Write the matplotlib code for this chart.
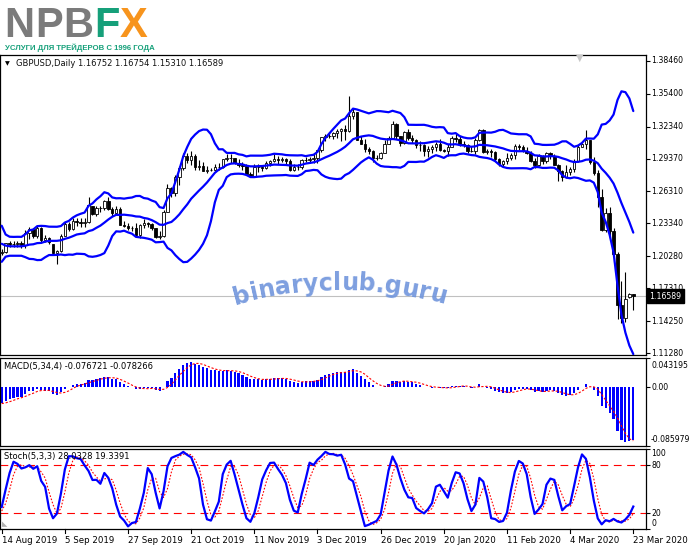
import numpy as np
import pandas as pd
import matplotlib.pyplot as plt
from matplotlib.transforms import blended_transform_factory

W, H = 691, 549

# ---- daily GBPUSD bars, 14 Aug 2019 .. 23 Mar 2020 ----
opens = [
    1.2060, 1.2070, 1.2150, 1.2140, 1.2145, 1.2155, 1.2130, 1.2245, 1.2285, 1.2215,
    1.2290, 1.2180, 1.2195, 1.2140, 1.2060, 1.2075, 1.2220, 1.2330, 1.2285, 1.2355,
    1.2350, 1.2335, 1.2345, 1.2495, 1.2420, 1.2480, 1.2475, 1.2545, 1.2470, 1.2435,
    1.2470, 1.2320, 1.2315, 1.2290, 1.2295, 1.2225, 1.2320, 1.2335, 1.2330, 1.2290,
    1.2210, 1.2220, 1.2445, 1.2665, 1.2615, 1.2770, 1.2850, 1.2960, 1.2920, 1.2965,
    1.2860, 1.2865, 1.2825, 1.2835, 1.2830, 1.2860, 1.2860, 1.2935, 1.2945, 1.2940,
    1.2895, 1.2875, 1.2870, 1.2795, 1.2775, 1.2860, 1.2855, 1.2850, 1.2895, 1.2915,
    1.2935, 1.2920, 1.2935, 1.2910, 1.2835, 1.2860, 1.2855, 1.2920, 1.2925, 1.2935,
    1.2940, 1.3015, 1.3135, 1.3150, 1.3150, 1.3170, 1.3190, 1.3215, 1.3190, 1.3330,
    1.3365, 1.3110, 1.3075, 1.3030, 1.3010, 1.2945, 1.2945, 1.2990, 1.3075, 1.3125,
    1.3255, 1.3145, 1.3080, 1.3180, 1.3130, 1.3105, 1.3065, 1.3060, 1.3005, 1.3025,
    1.3040, 1.3070, 1.3015, 1.3005, 1.3045, 1.3125, 1.3115, 1.3075, 1.3065, 1.3005,
    1.3005, 1.3110, 1.3205, 1.2995, 1.3010, 1.2995, 1.2935, 1.2885, 1.2915, 1.2945,
    1.2970, 1.3050, 1.3045, 1.3010, 1.2990, 1.2915, 1.2875, 1.2960, 1.2910, 1.2990,
    1.2965, 1.2880, 1.2825, 1.2770, 1.2815, 1.2840, 1.2915, 1.3045, 1.3075, 1.3105,
    1.2905, 1.2800, 1.2580, 1.2275, 1.2430, 1.2260, 1.2055, 1.1580, 1.1460, 1.1650,
    1.16752,
]
highs = [
    1.2099, 1.2155, 1.2170, 1.2175, 1.2170, 1.2170, 1.2275, 1.2300, 1.2290, 1.2310,
    1.2300, 1.2225, 1.2210, 1.2145, 1.2085, 1.2235, 1.2345, 1.2350, 1.2385, 1.2385,
    1.2385, 1.2385, 1.2580, 1.2500, 1.2500, 1.2500, 1.2555, 1.2580, 1.2490, 1.2500,
    1.2490, 1.2360, 1.2340, 1.2310, 1.2340, 1.2330, 1.2375, 1.2350, 1.2340, 1.2295,
    1.2260, 1.2460, 1.2705, 1.2675, 1.2785, 1.2870, 1.2990, 1.2990, 1.3010, 1.2980,
    1.2925, 1.2905, 1.2870, 1.2845, 1.2885, 1.2895, 1.2935, 1.2975, 1.2975, 1.2945,
    1.2935, 1.2905, 1.2890, 1.2810, 1.2890, 1.2890, 1.2870, 1.2915, 1.2925, 1.2980,
    1.2965, 1.2950, 1.2945, 1.2935, 1.2890, 1.2885, 1.2935, 1.2950, 1.2950, 1.2980,
    1.3020, 1.3140, 1.3165, 1.3180, 1.3180, 1.3215, 1.3225, 1.3250, 1.3515, 1.3405,
    1.3365, 1.3145, 1.3115, 1.3045, 1.3020, 1.2970, 1.3000, 1.3105, 1.3145, 1.3285,
    1.3265, 1.3150, 1.3190, 1.3215, 1.3160, 1.3115, 1.3100, 1.3075, 1.3050, 1.3065,
    1.3090, 1.3120, 1.3025, 1.3075, 1.3150, 1.3175, 1.3145, 1.3100, 1.3070, 1.3050,
    1.3125, 1.3215, 1.3210, 1.3030, 1.3030, 1.3005, 1.2945, 1.2925, 1.2990, 1.2990,
    1.3070, 1.3070, 1.3060, 1.3045, 1.3005, 1.2940, 1.2980, 1.2970, 1.3000, 1.3000,
    1.2975, 1.2890, 1.2835, 1.2875, 1.2860, 1.2935, 1.3075, 1.3085, 1.3200, 1.3110,
    1.2950, 1.2835, 1.2650, 1.2480, 1.2485, 1.2295, 1.2065, 1.1800, 1.1885, 1.1690,
    1.16754,
]
lows = [
    1.2040, 1.2060, 1.2115, 1.2115, 1.2115, 1.2110, 1.2110, 1.2190, 1.2200, 1.2200,
    1.2150, 1.2160, 1.2140, 1.2045, 1.1960, 1.2065, 1.2215, 1.2265, 1.2270, 1.2315,
    1.2305, 1.2300, 1.2340, 1.2410, 1.2405, 1.2440, 1.2455, 1.2460, 1.2405, 1.2420,
    1.2320, 1.2305, 1.2275, 1.2265, 1.2205, 1.2195, 1.2290, 1.2300, 1.2275, 1.2195,
    1.2190, 1.2205, 1.2440, 1.2580, 1.2585, 1.2690, 1.2830, 1.2900, 1.2880, 1.2830,
    1.2835, 1.2820, 1.2805, 1.2825, 1.2820, 1.2830, 1.2850, 1.2910, 1.2900, 1.2885,
    1.2860, 1.2835, 1.2795, 1.2765, 1.2770, 1.2815, 1.2820, 1.2840, 1.2870, 1.2905,
    1.2885, 1.2905, 1.2890, 1.2820, 1.2825, 1.2835, 1.2840, 1.2905, 1.2900, 1.2900,
    1.2895, 1.3000, 1.3100, 1.3125, 1.3120, 1.3130, 1.3100, 1.3105, 1.3185, 1.3300,
    1.3110, 1.3070, 1.2995, 1.2975, 1.2905, 1.2925, 1.2935, 1.2985, 1.3075, 1.3115,
    1.3120, 1.3050, 1.3075, 1.3110, 1.3085, 1.3035, 1.3010, 1.2960, 1.2955, 1.2990,
    1.3005, 1.3005, 1.2995, 1.2965, 1.3040, 1.3095, 1.3055, 1.3040, 1.2990, 1.2995,
    1.2975, 1.3100, 1.2990, 1.2975, 1.2950, 1.2915, 1.2870, 1.2870, 1.2890, 1.2925,
    1.2935, 1.3020, 1.3000, 1.2975, 1.2905, 1.2850, 1.2865, 1.2890, 1.2895, 1.2935,
    1.2875, 1.2725, 1.2725, 1.2760, 1.2780, 1.2815, 1.2905, 1.3040, 1.3030, 1.2885,
    1.2780, 1.2490, 1.2265, 1.2255, 1.2200, 1.1980, 1.1450, 1.1410, 1.1420, 1.1640,
    1.15310,
]
closes = [
    1.2070, 1.2150, 1.2140, 1.2145, 1.2155, 1.2130, 1.2245, 1.2280, 1.2215, 1.2290,
    1.2180, 1.2195, 1.2160, 1.2060, 1.2075, 1.2220, 1.2330, 1.2285, 1.2355, 1.2350,
    1.2335, 1.2345, 1.2505, 1.2420, 1.2480, 1.2475, 1.2545, 1.2470, 1.2435, 1.2470,
    1.2320, 1.2315, 1.2290, 1.2295, 1.2225, 1.2320, 1.2335, 1.2330, 1.2290, 1.2210,
    1.2220, 1.2445, 1.2665, 1.2615, 1.2770, 1.2850, 1.2960, 1.2920, 1.2965, 1.2860,
    1.2865, 1.2825, 1.2835, 1.2830, 1.2860, 1.2860, 1.2935, 1.2945, 1.2940, 1.2895,
    1.2875, 1.2870, 1.2795, 1.2775, 1.2860, 1.2855, 1.2850, 1.2895, 1.2910, 1.2935,
    1.2920, 1.2935, 1.2910, 1.2835, 1.2860, 1.2855, 1.2920, 1.2925, 1.2935, 1.2940,
    1.3015, 1.3135, 1.3150, 1.3150, 1.3170, 1.3190, 1.3215, 1.3190, 1.3330, 1.3365,
    1.3110, 1.3075, 1.3030, 1.3010, 1.2945, 1.2945, 1.2990, 1.3075, 1.3125, 1.3260,
    1.3145, 1.3080, 1.3180, 1.3130, 1.3105, 1.3065, 1.3060, 1.3005, 1.3025, 1.3040,
    1.3070, 1.3015, 1.3005, 1.3045, 1.3125, 1.3115, 1.3075, 1.3065, 1.3005, 1.3005,
    1.3110, 1.3205, 1.2995, 1.3010, 1.2995, 1.2935, 1.2885, 1.2915, 1.2945, 1.2970,
    1.3050, 1.3045, 1.3010, 1.2990, 1.2915, 1.2875, 1.2960, 1.2910, 1.2990, 1.2965,
    1.2880, 1.2825, 1.2770, 1.2815, 1.2840, 1.2915, 1.3045, 1.3075, 1.3105, 1.2905,
    1.2800, 1.2580, 1.2275, 1.2430, 1.2260, 1.2055, 1.1580, 1.1460, 1.1630, 1.1675,
    1.16589,
]

# bars before the window, only used to warm up the indicators
pre_closes = [
    1.2590, 1.2540, 1.2545, 1.2655, 1.2715, 1.2745, 1.2745, 1.2700, 1.2665, 1.2690,
    1.2695, 1.2625, 1.2590, 1.2580, 1.2565, 1.2520, 1.2510, 1.2465, 1.2510, 1.2515,
    1.2575, 1.2510, 1.2415, 1.2425, 1.2505, 1.2475, 1.2470, 1.2440, 1.2475, 1.2455,
    1.2385, 1.2225, 1.2155, 1.2150, 1.2135, 1.2165, 1.2140, 1.2170, 1.2140, 1.2150,
    1.2035, 1.2055, 1.2060,
]
pre_highs = [1.2200, 1.2210, 1.2190, 1.2195, 1.2165, 1.2160, 1.2090, 1.2085]
pre_lows = [1.2115, 1.2125, 1.2115, 1.2110, 1.2120, 1.2015, 1.2015, 1.2035]

date_labels = ['14 Aug 2019', '5 Sep 2019', '27 Sep 2019', '21 Oct 2019', '11 Nov 2019',
               '3 Dec 2019', '26 Dec 2019', '20 Jan 2020', '11 Feb 2020', '4 Mar 2020',
               '23 Mar 2020']
label_step = 16

price_ticks = [1.38460, 1.35400, 1.32340, 1.29370, 1.26310, 1.23340,
               1.20280, 1.17310, 1.14250, 1.11280]
macd_ticks = [0.043195, 0.0, -0.085979]
macd_tick_text = ['0.043195', '0.00', '-0.085979']
stoch_ticks = [100, 80, 20, 0]
macd_caption = 'MACD(5,34,4) -0.076721 -0.078266'
stoch_caption = 'Stoch(5,3,3) 28.0328 19.3391'

# ---- indicators ----
n = len(closes)
x = np.arange(n)
c_all = pd.Series(pre_closes + closes)
npre = len(pre_closes)

bb_mid = c_all.rolling(14).mean()
bb_sd = c_all.rolling(14).std(ddof=0)
bb_up = (bb_mid + 2 * bb_sd).values[npre:]
bb_lo = (bb_mid - 2 * bb_sd).values[npre:]
bb_mid = bb_mid.values[npre:]

macd = c_all.ewm(span=5, adjust=False).mean() - c_all.ewm(span=34, adjust=False).mean()
macd_sig = macd.rolling(4).mean().values[npre:]
macd = macd.values[npre:]

hh = pd.Series(pre_highs + highs)
ll = pd.Series(pre_lows + lows)
cc = pd.Series(pre_closes[-len(pre_highs):] + closes)
hh5 = hh.rolling(5).max()
ll5 = ll.rolling(5).min()
st_k = 100 * (cc - ll5).rolling(3).sum() / (hh5 - ll5).rolling(3).sum()
st_d = st_k.rolling(3).mean()
st_k = st_k.values[len(pre_highs):]
st_d = st_d.values[len(pre_highs):]

# ---- figure ----
fig = plt.figure(figsize=(W / 100, H / 100), dpi=100)
fig.patch.set_facecolor('white')
FONT = 'DejaVu Sans'
fs = 5.6

step = 3.9475       # pixels per bar
x0 = 1.7            # pixel of first bar
right = 646
xlim = (-x0 / step, (right - x0) / step)


def panel(top, bottom):
    ax = fig.add_axes([0, 1 - bottom / H, right / W, (bottom - top) / H])
    ax.set_xlim(*xlim)
    ax.set_xticks([])
    for s in ax.spines.values():
        s.set_color('black')
        s.set_linewidth(0.9)
    ax.yaxis.tick_right()
    ax.tick_params(axis='y', length=3, width=0.8, pad=2, labelsize=fs)
    return ax


def right_labels(ax, vals, texts, offsets=None):
    tr = blended_transform_factory(ax.transAxes, ax.transData)
    ax.set_yticks(vals)
    ax.set_yticklabels([])
    for k, (v, t) in enumerate(zip(vals, texts)):
        dy = 0 if offsets is None else offsets[k]
        ax.annotate(t, xy=(1, v), xycoords=tr, xytext=(3.6, dy), textcoords='offset points',
                    ha='left', va='center', fontsize=fs, family=FONT, annotation_clip=False)


# main price panel
top_m, bot_m = 55, 355
py0, py1 = 60.7, 353.3        # pixel rows of 1.38460 and 1.11280
slope = (py1 - py0) / (1.38460 - 1.11280)
ax = panel(top_m, bot_m)
ax.set_ylim(1.11280 - (bot_m - py1) / slope, 1.38460 + (py0 - top_m) / slope)
right_labels(ax, price_ticks, [f'{v:.5f}' for v in price_ticks])

ax.axhline(closes[-1], color='#c0c0c0', lw=0.8, zorder=1)
ax.vlines(x, lows, highs, color='black', lw=0.8, zorder=2)
o = np.array(opens)
c = np.array(closes)
face = np.where(c >= o, 'white', 'black')
body = np.maximum(np.abs(c - o), 0.00006)
ax.bar(x, body, bottom=np.minimum(o, c), width=0.62, color=face, edgecolor='black',
       linewidth=0.6, zorder=3)
for band in (bb_up, bb_mid, bb_lo):
    ax.plot(x, band, color='#0000ff', lw=1.6, zorder=4, solid_capstyle='round')

fig.text(5 / W, 1 - 63.5 / H, '\u25bc', fontsize=4.5, family=FONT, va='center', ha='left')
fig.text(16 / W, 1 - 63.5 / H,
         f'GBPUSD,Daily {opens[-1]:.5f} {highs[-1]:.5f} {lows[-1]:.5f} {closes[-1]:.5f}',
         fontsize=6.0, family=FONT, va='center', ha='left', color='#111111')
# chart shift marker
fig.text(580 / W, 1 - 57.5 / H, '\u25bc', fontsize=7, color='#c8c8c8', ha='center', va='center')
# current price label
ax.annotate(f'{closes[-1]:.5f}', xy=(1, closes[-1]),
            xycoords=blended_transform_factory(ax.transAxes, ax.transData),
            xytext=(2.5, 0), textcoords='offset points', ha='left', va='center',
            fontsize=fs, family=FONT, color='white', annotation_clip=False,
            bbox=dict(boxstyle='square,pad=0.3', fc='black', ec='black'))

# MACD panel
axm = panel(358, 446)
axm.set_ylim(macd_ticks[2], macd_ticks[0])
axm.bar(x, macd, width=0.55, color='#0000ff', zorder=2)
axm.plot(x, macd_sig, color='#ff0000', lw=0.8, ls=(0, (2, 1.6)), zorder=3)
right_labels(axm, macd_ticks, macd_tick_text, offsets=[-5.5, 0, 5])
axm.text(4 / right, 1 - 8 / 88, macd_caption, transform=axm.transAxes, fontsize=6.0,
         family=FONT, va='center', ha='left')

# Stochastic panel
axs = panel(449, 529)
axs.set_ylim(0, 100)
axs.axhline(80, color='#ff0000', lw=0.8, ls=(0, (7, 5)), zorder=1)
axs.axhline(20, color='#ff0000', lw=0.8, ls=(0, (7, 5)), zorder=1)
axs.plot(x, st_d, color='#ff0000', lw=0.8, ls=(0, (1.5, 1.5)), zorder=2)
axs.plot(x, st_k, color='#0000ff', lw=1.6, zorder=3)
right_labels(axs, stoch_ticks, [str(v) for v in stoch_ticks], offsets=[-3, 0, 0, 4])
axs.text(4 / right, 1 - 8 / 80, stoch_caption, transform=axs.transAxes, fontsize=6.0,
         family=FONT, va='center', ha='left')
# scroll marker in the lower-left corner
axs.text(0.003, 0.02, '\u25e3', transform=axs.transAxes, fontsize=5, color='#b0b0b0',
         ha='left', va='bottom')

# date axis
tr = blended_transform_factory(axs.transData, axs.transAxes)
for k, lab in enumerate(date_labels):
    xi = k * label_step
    axs.plot([xi, xi], [0, -0.05], color='black', lw=0.8, transform=tr, clip_on=False)
    axs.annotate(lab, xy=(xi, 0), xycoords=tr, xytext=(0, -8), textcoords='offset points',
                 ha='left', va='center', fontsize=6.2, family=FONT, annotation_clip=False)

# logo
logo = [('N', 4, '#7b7b7b'), ('P', 35, '#7b7b7b'), ('B', 63, '#7b7b7b'),
        ('F', 94, '#16a07a'), ('X', 120, '#f7941d')]
for ch, px, col in logo:
    fig.text(px / W, 1 - 37 / H, ch, fontsize=30, family='Liberation Sans',
             weight='bold', color=col, ha='left', va='baseline')
fig.text(5 / W, 1 - 50 / H, 'УСЛУГИ ДЛЯ ТРЕЙДЕРОВ С 1996 ГОДА', fontsize=5.6,
         family='Liberation Sans', weight='bold', color='#16a07a', ha='left', va='baseline')

# watermark along an arc
wm = 'binaryclub.guru'
wfs = 17
renderer = fig.canvas.get_renderer()
widths = []
for ch in wm:
    t = fig.text(0, 0, ch, fontsize=wfs, weight='bold', family=FONT)
    widths.append(t.get_window_extent(renderer).width)
    t.remove()
total = sum(widths)
R = 380.0
cx, cy = 340.0, 290.0 + R
pos = -total / 2
for ch, w in zip(wm, widths):
    s = pos + w / 2
    th = s / R
    px = cx + R * np.sin(th)
    py = cy - R * np.cos(th)
    fig.text(px / W, 1 - py / H, ch, fontsize=wfs, weight='bold', family=FONT,
             color='#6f94dc', alpha=0.9, rotation=-np.degrees(th), rotation_mode='anchor',
             ha='center', va='baseline')
    pos += w

fig.savefig('out.png', dpi=100)
